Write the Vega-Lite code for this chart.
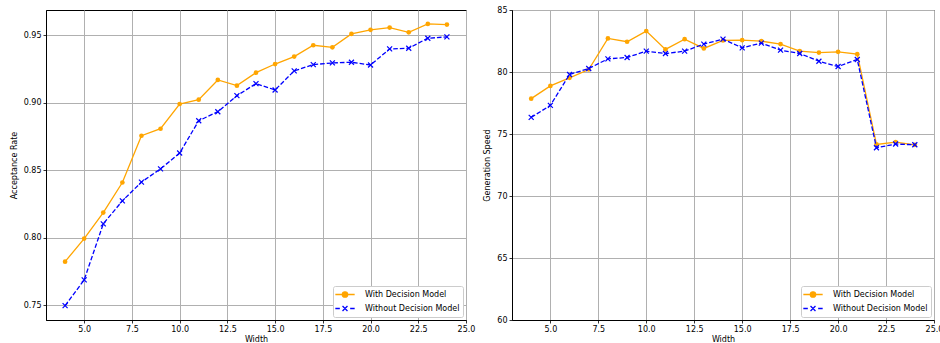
{
  "$schema": "https://vega.github.io/schema/vega-lite/v6.json",
  "padding": {"left": 9, "top": 5, "right": 5, "bottom": 3},
  "spacing": 46,
  "bounds": "flush",
  "background": "white",
  "config": {
    "font": "DejaVu Sans",
    "view": {"stroke": "black", "strokeWidth": 1},
    "axis": {
      "labelFont": "DejaVu Sans", "labelFontSize": 8, "labelColor": "black",
      "titleFont": "DejaVu Sans", "titleFontSize": 8, "titleFontWeight": "normal", "titleColor": "black",
      "domainColor": "black", "domainWidth": 1,
      "tickColor": "black", "tickSize": 3, "tickWidth": 0.8,
      "gridColor": "#b0b0b0", "gridWidth": 1,
      "labelPadding": 2
    },
    "legend": {
      "labelFont": "DejaVu Sans", "labelFontSize": 8, "labelColor": "black"
    }
  },
  "datasets": {
    "acc": [
      {"w": 4, "series": "With Decision Model", "v": 0.7824},
      {"w": 5, "series": "With Decision Model", "v": 0.7995},
      {"w": 6, "series": "With Decision Model", "v": 0.8187},
      {"w": 7, "series": "With Decision Model", "v": 0.8410},
      {"w": 8, "series": "With Decision Model", "v": 0.8756},
      {"w": 9, "series": "With Decision Model", "v": 0.8808},
      {"w": 10, "series": "With Decision Model", "v": 0.8991},
      {"w": 11, "series": "With Decision Model", "v": 0.9023},
      {"w": 12, "series": "With Decision Model", "v": 0.9169},
      {"w": 13, "series": "With Decision Model", "v": 0.9127},
      {"w": 14, "series": "With Decision Model", "v": 0.9223},
      {"w": 15, "series": "With Decision Model", "v": 0.9287},
      {"w": 16, "series": "With Decision Model", "v": 0.9342},
      {"w": 17, "series": "With Decision Model", "v": 0.9426},
      {"w": 18, "series": "With Decision Model", "v": 0.9411},
      {"w": 19, "series": "With Decision Model", "v": 0.9510},
      {"w": 20, "series": "With Decision Model", "v": 0.9540},
      {"w": 21, "series": "With Decision Model", "v": 0.9557},
      {"w": 22, "series": "With Decision Model", "v": 0.9522},
      {"w": 23, "series": "With Decision Model", "v": 0.9584},
      {"w": 24, "series": "With Decision Model", "v": 0.9579},
      {"w": 4, "series": "Without Decision Model", "v": 0.7498},
      {"w": 5, "series": "Without Decision Model", "v": 0.7689},
      {"w": 6, "series": "Without Decision Model", "v": 0.8104},
      {"w": 7, "series": "Without Decision Model", "v": 0.8274},
      {"w": 8, "series": "Without Decision Model", "v": 0.8413},
      {"w": 9, "series": "Without Decision Model", "v": 0.8511},
      {"w": 10, "series": "Without Decision Model", "v": 0.8628},
      {"w": 11, "series": "Without Decision Model", "v": 0.8867},
      {"w": 12, "series": "Without Decision Model", "v": 0.8934},
      {"w": 13, "series": "Without Decision Model", "v": 0.9053},
      {"w": 14, "series": "Without Decision Model", "v": 0.9142},
      {"w": 15, "series": "Without Decision Model", "v": 0.9095},
      {"w": 16, "series": "Without Decision Model", "v": 0.9236},
      {"w": 17, "series": "Without Decision Model", "v": 0.9283},
      {"w": 18, "series": "Without Decision Model", "v": 0.9295},
      {"w": 19, "series": "Without Decision Model", "v": 0.9300},
      {"w": 20, "series": "Without Decision Model", "v": 0.9280},
      {"w": 21, "series": "Without Decision Model", "v": 0.9399},
      {"w": 22, "series": "Without Decision Model", "v": 0.9404},
      {"w": 23, "series": "Without Decision Model", "v": 0.9478},
      {"w": 24, "series": "Without Decision Model", "v": 0.9488}
    ],
    "speed": [
      {"w": 4, "series": "With Decision Model", "v": 77.85},
      {"w": 5, "series": "With Decision Model", "v": 78.88},
      {"w": 6, "series": "With Decision Model", "v": 79.53},
      {"w": 7, "series": "With Decision Model", "v": 80.20},
      {"w": 8, "series": "With Decision Model", "v": 82.71},
      {"w": 9, "series": "With Decision Model", "v": 82.44},
      {"w": 10, "series": "With Decision Model", "v": 83.30},
      {"w": 11, "series": "With Decision Model", "v": 81.82},
      {"w": 12, "series": "With Decision Model", "v": 82.65},
      {"w": 13, "series": "With Decision Model", "v": 81.90},
      {"w": 14, "series": "With Decision Model", "v": 82.55},
      {"w": 15, "series": "With Decision Model", "v": 82.57},
      {"w": 16, "series": "With Decision Model", "v": 82.49},
      {"w": 17, "series": "With Decision Model", "v": 82.25},
      {"w": 18, "series": "With Decision Model", "v": 81.68},
      {"w": 19, "series": "With Decision Model", "v": 81.57},
      {"w": 20, "series": "With Decision Model", "v": 81.63},
      {"w": 21, "series": "With Decision Model", "v": 81.44},
      {"w": 22, "series": "With Decision Model", "v": 74.16},
      {"w": 23, "series": "With Decision Model", "v": 74.35},
      {"w": 24, "series": "With Decision Model", "v": 74.13},
      {"w": 4, "series": "Without Decision Model", "v": 76.34},
      {"w": 5, "series": "Without Decision Model", "v": 77.31},
      {"w": 6, "series": "Without Decision Model", "v": 79.80},
      {"w": 7, "series": "Without Decision Model", "v": 80.28},
      {"w": 8, "series": "Without Decision Model", "v": 81.06},
      {"w": 9, "series": "Without Decision Model", "v": 81.17},
      {"w": 10, "series": "Without Decision Model", "v": 81.68},
      {"w": 11, "series": "Without Decision Model", "v": 81.49},
      {"w": 12, "series": "Without Decision Model", "v": 81.68},
      {"w": 13, "series": "Without Decision Model", "v": 82.25},
      {"w": 14, "series": "Without Decision Model", "v": 82.65},
      {"w": 15, "series": "Without Decision Model", "v": 81.95},
      {"w": 16, "series": "Without Decision Model", "v": 82.33},
      {"w": 17, "series": "Without Decision Model", "v": 81.76},
      {"w": 18, "series": "Without Decision Model", "v": 81.49},
      {"w": 19, "series": "Without Decision Model", "v": 80.87},
      {"w": 20, "series": "Without Decision Model", "v": 80.44},
      {"w": 21, "series": "Without Decision Model", "v": 81.01},
      {"w": 22, "series": "Without Decision Model", "v": 73.89},
      {"w": 23, "series": "Without Decision Model", "v": 74.19},
      {"w": 24, "series": "Without Decision Model", "v": 74.13}
    ]
  },
  "resolve": {"scale": {"color": "independent"}, "legend": {"color": "independent"}},
  "hconcat": [
    {
      "width": 420,
      "height": 310,
      "data": {"name": "acc"},
      "encoding": {
        "x": {"field": "w", "type": "quantitative", "title": "Width",
              "scale": {"domain": [3, 25], "nice": false, "zero": false},
              "axis": {"values": [5, 7.5, 10, 12.5, 15, 17.5, 20, 22.5, 25], "format": ".1f", "titlePadding": 2, "labelFlush": false, "labelOverlap": false}},
        "y": {"field": "v", "type": "quantitative", "title": "Acceptance Rate",
              "scale": {"domain": [0.7392, 0.9687], "nice": false, "zero": false},
              "axis": {"values": [0.75, 0.8, 0.85, 0.9, 0.95], "format": ".2f", "titlePadding": 5, "labelFlush": false}}
      },
      "layer": [
        {
          "transform": [{"filter": "datum.series === 'With Decision Model'"}],
          "mark": {"type": "line", "strokeWidth": 1.3},
          "encoding": {
            "color": {"field": "series", "type": "nominal",
              "scale": {"domain": ["With Decision Model", "Without Decision Model"], "range": ["#ffa500", "#0000ff"]},
              "legend": {
                "title": null, "orient": "bottom-right", "offset": 3,
                "fillColor": "white", "strokeColor": "#cccccc", "cornerRadius": 2, "padding": 3,
                "symbolSize": 81, "symbolOffset": 3.5, "labelOffset": 14.5, "rowPadding": 3,
                "encode": {"symbols": {"update": {
                  "shape": {"signal": "datum.value === 'With Decision Model' ? 'M-2.15,0H2.15M0.6,0A0.6,0.6 0 1,1 -0.6,0A0.6,0.6 0 1,1 0.6,0Z' : 'M-2.15,0H-1.15M1.15,0H2.15M-0.55,-0.55L0.55,0.55M-0.55,0.55L0.55,-0.55'"},
                  "fill": {"signal": "datum.value === 'With Decision Model' ? '#ffa500' : 'transparent'"},
                  "stroke": {"signal": "datum.value === 'With Decision Model' ? '#ffa500' : '#0000ff'"},
                  "strokeWidth": {"value": 1.3},
                  "opacity": {"value": 1}
                }}}
              }}
          }
        },
        {
          "transform": [{"filter": "datum.series === 'With Decision Model'"}],
          "mark": {"type": "point", "shape": "circle", "filled": true, "size": 22, "color": "#ffa500", "opacity": 1}
        },
        {
          "transform": [{"filter": "datum.series === 'Without Decision Model'"}],
          "mark": {"type": "line", "strokeWidth": 1.3, "strokeDash": [4.6, 2]},
          "encoding": {
            "color": {"field": "series", "type": "nominal",
              "scale": {"domain": ["With Decision Model", "Without Decision Model"], "range": ["#ffa500", "#0000ff"]}}
          }
        },
        {
          "transform": [{"filter": "datum.series === 'Without Decision Model'"}],
          "mark": {"type": "point", "shape": "M-1,-1L1,1M-1,1L1,-1", "filled": false, "size": 25, "color": "#0000ff", "strokeWidth": 1.2, "opacity": 1}
        }
      ]
    },
    {
      "width": 422,
      "height": 310,
      "data": {"name": "speed"},
      "encoding": {
        "x": {"field": "w", "type": "quantitative", "title": "Width",
              "scale": {"domain": [3, 25], "nice": false, "zero": false},
              "axis": {"values": [5, 7.5, 10, 12.5, 15, 17.5, 20, 22.5, 25], "format": ".1f", "titlePadding": 2, "labelFlush": false, "labelOverlap": false}},
        "y": {"field": "v", "type": "quantitative", "title": "Generation Speed",
              "scale": {"domain": [60, 85], "nice": false, "zero": false},
              "axis": {"values": [60, 65, 70, 75, 80, 85], "format": "d", "titlePadding": 5, "labelFlush": false}}
      },
      "layer": [
        {
          "transform": [{"filter": "datum.series === 'With Decision Model'"}],
          "mark": {"type": "line", "strokeWidth": 1.3},
          "encoding": {
            "color": {"field": "series", "type": "nominal",
              "scale": {"domain": ["With Decision Model", "Without Decision Model"], "range": ["#ffa500", "#0000ff"]},
              "legend": {
                "title": null, "orient": "bottom-right", "offset": 3,
                "fillColor": "white", "strokeColor": "#cccccc", "cornerRadius": 2, "padding": 3,
                "symbolSize": 81, "symbolOffset": 3.5, "labelOffset": 14.5, "rowPadding": 3,
                "encode": {"symbols": {"update": {
                  "shape": {"signal": "datum.value === 'With Decision Model' ? 'M-2.15,0H2.15M0.6,0A0.6,0.6 0 1,1 -0.6,0A0.6,0.6 0 1,1 0.6,0Z' : 'M-2.15,0H-1.15M1.15,0H2.15M-0.55,-0.55L0.55,0.55M-0.55,0.55L0.55,-0.55'"},
                  "fill": {"signal": "datum.value === 'With Decision Model' ? '#ffa500' : 'transparent'"},
                  "stroke": {"signal": "datum.value === 'With Decision Model' ? '#ffa500' : '#0000ff'"},
                  "strokeWidth": {"value": 1.3},
                  "opacity": {"value": 1}
                }}}
              }}
          }
        },
        {
          "transform": [{"filter": "datum.series === 'With Decision Model'"}],
          "mark": {"type": "point", "shape": "circle", "filled": true, "size": 22, "color": "#ffa500", "opacity": 1}
        },
        {
          "transform": [{"filter": "datum.series === 'Without Decision Model'"}],
          "mark": {"type": "line", "strokeWidth": 1.3, "strokeDash": [4.6, 2]},
          "encoding": {
            "color": {"field": "series", "type": "nominal",
              "scale": {"domain": ["With Decision Model", "Without Decision Model"], "range": ["#ffa500", "#0000ff"]}}
          }
        },
        {
          "transform": [{"filter": "datum.series === 'Without Decision Model'"}],
          "mark": {"type": "point", "shape": "M-1,-1L1,1M-1,1L1,-1", "filled": false, "size": 25, "color": "#0000ff", "strokeWidth": 1.2, "opacity": 1}
        }
      ]
    }
  ]
}
